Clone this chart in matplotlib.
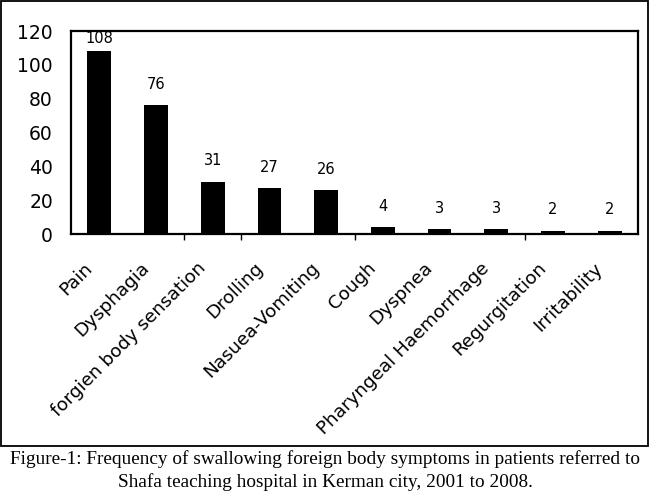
import matplotlib
matplotlib.use("Agg")
import matplotlib.pyplot as plt
from matplotlib.patches import Rectangle
from matplotlib.transforms import ScaledTranslation

categories = ["Pain", "Dysphagia", "forgien body sensation", "Drolling",
              "Nasuea-Vomiting", "Cough", "Dyspnea", "Pharyngeal Haemorrhage",
              "Regurgitation", "Irritability"]
values = [108, 76, 31, 27, 26, 4, 3, 3, 2, 2]
yticks = [0, 20, 40, 60, 80, 100, 120]
caption_lines = [
    "Figure-1: Frequency of swallowing foreign body symptoms in patients referred to",
    "Shafa teaching hospital in Kerman city, 2001 to 2008.",
]

W, H = 650, 498
fig = plt.figure(figsize=(W / 100, H / 100), dpi=100)
fig.patch.set_facecolor("white")

# outer border
fig.patches.append(Rectangle((1 / W, 1 - 446 / H), 647 / W, 445 / H,
                             transform=fig.transFigure, fill=False,
                             edgecolor="black", linewidth=1.3))

left, right, top, bottom = 71, 638, 31, 234
ax = fig.add_axes([left / W, 1 - bottom / H, (right - left) / W, (bottom - top) / H])

x = list(range(len(categories)))
bars = ax.bar(x, values, width=0.42, color="black")
ax.set_xlim(-0.5, len(categories) - 0.5)
ax.set_ylim(0, 120)
ax.set_yticks(yticks)
ax.set_yticklabels([str(t) for t in yticks], fontsize=13.5, family="DejaVu Sans")
ax.tick_params(axis="y", length=0, pad=13)

for s in ax.spines.values():
    s.set_linewidth(1.6)
    s.set_color("black")

ax.set_xticks(x)
ax.set_xticklabels(categories, rotation=45, ha="right", va="top",
                   rotation_mode="anchor", fontsize=13.2, family="DejaVu Sans")
ax.tick_params(axis="x", which="major", length=0, pad=18)
ax.set_xticks([1.5, 2.5, 4.5, 7.5], minor=True)
ax.tick_params(axis="x", which="minor", length=4, width=1, direction="out")
shift = ScaledTranslation(-0.16, 0, fig.dpi_scale_trans)
for lab in ax.get_xticklabels():
    lab.set_transform(lab.get_transform() + shift)

for xi, v in zip(x, values):
    off = 3.5 if v > 100 else 9.5
    ax.annotate(str(v), (xi, v), xytext=(0, off), textcoords="offset points",
                ha="center", va="bottom", fontsize=10.5, family="DejaVu Sans")

fig.text(0.5, 1 - 464 / H, caption_lines[0], ha="center", va="baseline",
         fontsize=13.9, family="Liberation Serif")
fig.text(0.5, 1 - 487 / H, caption_lines[1], ha="center", va="baseline",
         fontsize=13.9, family="Liberation Serif")

fig.savefig("out.png", dpi=100)
